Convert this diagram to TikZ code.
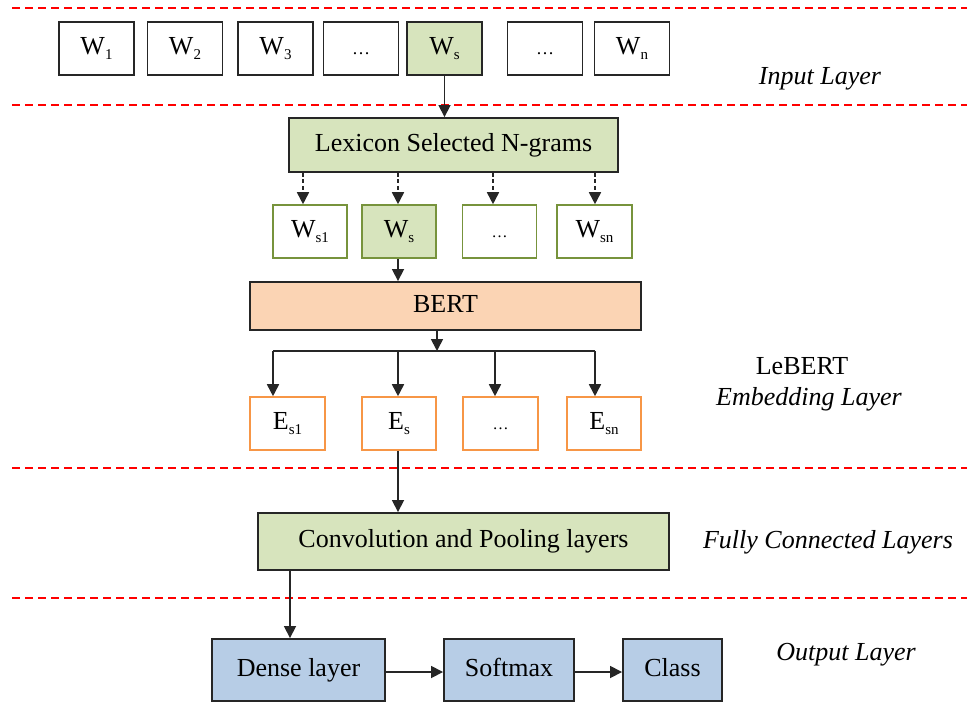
\documentclass[tikz,border=0pt]{standalone}
\usepackage{fontspec}
\setmainfont{Liberation Serif}
\usetikzlibrary{arrows.meta}
\definecolor{gfill}{HTML}{D7E4BD}
\definecolor{gline}{HTML}{77933C}
\definecolor{oline}{HTML}{F79646}
\definecolor{ofill}{HTML}{FBD4B4}
\definecolor{bfill}{HTML}{B7CDE6}
\definecolor{dk}{HTML}{262626}
\newcommand\subtx[1]{\raisebox{-0.4ex}{\fontsize{15}{15}\selectfont #1}}
\tikzset{
  box/.style={draw=dk, line width=1.9pt, inner sep=0pt, fill=white, font=\fontsize{26}{30}\selectfont, text=black, text height=18pt, text depth=6pt},
  gbox/.style={box, fill=gfill},
  gobox/.style={box, draw=gline, line width=1.6pt},
  obox/.style={box, draw=oline, line width=1.6pt},
  bbox/.style={box, fill=bfill},
  arr/.style={draw=dk, line width=1.7pt, -{Triangle[length=12pt,width=12pt]}},
  darr/.style={arr, dash pattern=on 4pt off 2.5pt},
  sep/.style={draw=red, line width=1.8pt, dash pattern=on 8pt off 5pt},
  lbl/.style={font=\fontsize{26}{30}\selectfont\itshape, text=black, inner sep=0pt},
}
\begin{document}
\begin{tikzpicture}[x=1pt,y=-1pt]
\useasboundingbox[fill=white] (0,0) rectangle (967,702);
% separators
\coordinate (s1a) at (12,8);   \coordinate (s1b) at (967,8);
\coordinate (s2a) at (12,105); \coordinate (s2b) at (967,105);
\coordinate (s3a) at (12,468); \coordinate (s3b) at (967,468);
\coordinate (s4a) at (12,598); \coordinate (s4b) at (967,598);
\draw[sep] (s1a) -- (s1b);
\draw[sep] (s2a) -- (s2b);
\draw[sep] (s3a) -- (s3b);
\draw[sep] (s4a) -- (s4b);
% input row
\node[box, minimum width=75pt, minimum height=53pt] (w1) at (96.5,48.5) {W\subtx{1}};
\node[box, minimum width=75pt, minimum height=53pt] (w2) at (185,48.5) {W\subtx{2}};
\node[box, minimum width=75pt, minimum height=53pt] (w3) at (275.5,48.5) {W\subtx{3}};
\node[box, minimum width=75pt, minimum height=53pt] (wd1) at (361,48.5) {\fontsize{18}{20}\selectfont\ldots};
\node[gbox, minimum width=75pt, minimum height=53pt] (ws) at (444.5,48.5) {W\subtx{s}};
\node[box, minimum width=75pt, minimum height=53pt] (wd2) at (545,48.5) {\fontsize{18}{20}\selectfont\ldots};
\node[box, minimum width=75pt, minimum height=53pt] (wn) at (632,48.5) {W\subtx{n}};
% lexicon
\node[gbox, minimum width=329pt, minimum height=54pt] (lex) at (453.5,145) {Lexicon Selected N-grams};
\draw[arr] (ws.south) -- (ws.south |- lex.north);
% second row
\node[gobox, minimum width=74pt, minimum height=53pt] (ws1) at (310,231.5) {W\subtx{s1}};
\node[gobox, fill=gfill, minimum width=74pt, minimum height=53pt] (ws2) at (399,231.5) {W\subtx{s}};
\node[gobox, minimum width=74pt, minimum height=53pt] (wsd) at (499.5,231.5) {\fontsize{16}{18}\selectfont\ldots};
\node[gobox, minimum width=75pt, minimum height=53pt] (wsn) at (594.5,231.5) {W\subtx{sn}};
\draw[darr] ([xshift=-7pt]ws1.north |- lex.south) -- ([xshift=-7pt]ws1.north);
\draw[darr] ([xshift=-1pt]ws2.north |- lex.south) -- ([xshift=-1pt]ws2.north);
\draw[darr] ([xshift=-6.5pt]wsd.north |- lex.south) -- ([xshift=-6.5pt]wsd.north);
\draw[darr] ([xshift=0.5pt]wsn.north |- lex.south) -- ([xshift=0.5pt]wsn.north);
% BERT
\node[box, fill=ofill, minimum width=391pt, minimum height=48pt] (bert) at (445.5,306) {BERT};
\draw[arr] ([xshift=-1pt]ws2.south) -- ([xshift=-1pt]ws2.south |- bert.north);
% E row
\node[obox, minimum width=75pt, minimum height=53pt] (es1) at (287.5,423.5) {E\subtx{s1}};
\node[obox, minimum width=74pt, minimum height=53pt] (es) at (399,423.5) {E\subtx{s}};
\node[obox, minimum width=75pt, minimum height=53pt] (esd) at (500.5,423.5) {\fontsize{16}{18}\selectfont\ldots};
\node[obox, minimum width=74pt, minimum height=53pt] (esn) at (604,423.5) {E\subtx{sn}};
\coordinate (split) at (437,351);
\coordinate (bl) at (273,351);
\coordinate (br) at (595,351);
\draw[arr] (bert.south -| split) -- (split);
\draw[draw=dk, line width=1.7pt] (bl) -- (br);
\draw[arr] (bl) -- (bl |- es1.north);
\draw[arr] ([xshift=-1pt]es.north |- bl) -- ([xshift=-1pt]es.north);
\draw[arr] ([xshift=-5.5pt]esd.north |- bl) -- ([xshift=-5.5pt]esd.north);
\draw[arr] (br) -- (br |- esn.north);
% conv
\node[gbox, minimum width=411pt, minimum height=57pt] (conv) at (463.5,541.5) {Convolution and Pooling layers};
\draw[arr] ([xshift=-1pt]es.south) -- ([xshift=-1pt]es.south |- conv.north);
% output
\node[bbox, minimum width=173pt, minimum height=62pt] (dense) at (298.5,670) {Dense layer};
\node[bbox, minimum width=130pt, minimum height=62pt] (soft) at (509,670) {Softmax};
\node[bbox, minimum width=99pt, minimum height=62pt] (cls) at (672.5,670) {Class};
\coordinate (cd) at (290,570);
\draw[arr] (conv.south -| cd) -- (cd |- dense.north);
\draw[arr] ([yshift=-2pt]dense.east) -- ([yshift=-2pt]soft.west);
\draw[arr] ([yshift=-2pt]soft.east) -- ([yshift=-2pt]cls.west);
% labels
\node[lbl] (l1) at (820,79) {Input Layer};
\node[lbl, font=\fontsize{26}{30}\selectfont] (l2) at (802,366) {LeBERT};
\node[lbl] (l3) at (809,399) {Embedding Layer};
\node[lbl] (l4) at (828,542) {Fully Connected Layers};
\node[lbl] (l5) at (846,655) {Output Layer};
\end{tikzpicture}
\end{document}
